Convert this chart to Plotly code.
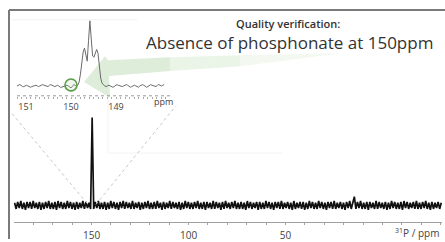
import plotly.graph_objects as go

W, H = 445, 242

# ---------------- data ----------------
main_start, main_step = 189.7, 0.8
main_int = [
    3,-4,4,-3,5,-4,3,-5,4,-3,4,-4,5,-3,3,-4,4,-5,3,-4,
    4,-3,5,-4,3,-4,4,-5,5,-3,4,-4,3,-4,5,-3,4,-4,3,-5,
    4,-4,3,-3,5,-4,4,-3,3,-4,100,-4,4,-3,5,-4,3,-4,4,-5,
    3,-4,5,-3,4,-4,3,-5,4,-3,5,-4,4,-3,3,-4,5,-4,3,-3,
    4,-5,3,-4,4,-3,5,-4,3,-4,4,-4,5,-3,3,-5,4,-4,3,-3,
    5,-4,4,-3,3,-4,4,-5,3,-4,5,-3,4,-4,3,-4,4,-3,5,-4,
    3,-4,4,-5,4,-3,3,-4,5,-4,4,-3,3,-5,4,-4,5,-3,3,-4,
    4,-3,5,-4,3,-4,4,-4,3,-5,5,-3,4,-4,3,-3,4,-5,4,-4,
    3,-4,5,-3,4,-4,3,-5,4,-3,4,-4,5,-4,3,-3,4,-4,3,-5,
    5,-4,3,-3,4,-4,4,-5,3,-4,5,-3,4,-4,3,-4,5,-3,4,-4,
    3,-5,4,-3,4,-4,5,-4,3,-3,4,-4,3,-5,4,-3,5,-4,3,10,
    -4,4,-3,5,-4,3,-4,4,-5,4,-3,3,-4,5,-4,4,-3,3,-4,4,
    -5,3,-4,5,-3,4,-4,3,-4,4,-5,5,-3,4,-4,3,-3,4,-4,5,
    -4,3,-4,4,-3,5,-4,3,-5,4,-4,3,-3,4,-4,3,
]
main_ppm = [round(main_start - main_step * i, 3) for i in range(len(main_int))]

inset_start, inset_step = 151.2, 0.03
inset_int = [
    0,1,2,1,-1,-1,0,1,0,-1,
    -2,-1,0,1,1,0,-1,0,1,2,
    1,0,-1,-1,1,2,1,0,-1,0,
    1,0,-2,-2,-1,0,1,1,0,-1,
    -3,-1,2,1,-1,
    1,6,18,38,52,58,45,38,70,100,72,46,44,52,56,50,30,12,4,1,
    0,-1,0,1,0,-1,-2,-1,1,2,1,0,-1,-1,0,
    1,2,1,-1,-2,-1,0,1,0,-1,-2,0,1,2,1,
    -1,-2,-1,1,2,1,0,-1,-1,1,2,1,0,1,2,
]
inset_ppm = [round(inset_start - inset_step * i, 3) for i in range(len(inset_int))]

main_tick_vals = list(range(180, -31, -10))
main_tick_labels = {150: "150", 100: "100", 50: "50"}
inset_tick_vals = [round(151.2 - 0.1 * i, 1) for i in range(34)]
inset_tick_labels = {151.0: "151", 150.0: "150", 149.0: "149"}

title_small = "Quality verification:"
title_big = "Absence of phosphonate at 150ppm"
axis_label = "<sup>31</sup>P / ppm"


def px(x):
    return x / W


def py(y):
    return 1 - y / H


fig = go.Figure()
fig.add_trace(go.Scatter(x=main_ppm, y=main_int, mode="lines",
                         line=dict(color="#111111", width=1.7),
                         xaxis="x", yaxis="y", hoverinfo="skip"))
fig.add_trace(go.Scatter(x=inset_ppm, y=inset_int, mode="lines",
                         line=dict(color="#6a6a6a", width=1),
                         xaxis="x2", yaxis="y2", hoverinfo="skip"))

shapes = []
# frame
shapes.append(dict(type="line", xref="paper", yref="paper", x0=px(9), x1=px(445), y0=py(10), y1=py(10),
                   line=dict(color="#7a7a7a", width=2)))
shapes.append(dict(type="line", xref="paper", yref="paper", x0=px(9), x1=px(9), y0=py(10), y1=py(242),
                   line=dict(color="#7a7a7a", width=2)))
# faint boxes
for (a, b, c, d) in [(12, 20, 137, 20), (108, 100, 108, 155), (108, 155, 282, 155)]:
    shapes.append(dict(type="line", xref="paper", yref="paper", x0=px(a), y0=py(b), x1=px(c), y1=py(d),
                       line=dict(color="#f2f2f2", width=1)))
# connector dotted lines
shapes.append(dict(type="line", xref="paper", yref="paper", x0=px(12), y0=py(115), x1=px(88), y1=py(207),
                   line=dict(color="#c8c8c8", width=1, dash="dot")))
shapes.append(dict(type="line", xref="paper", yref="paper", x0=px(96), y0=py(207), x1=px(176), y1=py(107),
                   line=dict(color="#c8c8c8", width=1, dash="dot")))
# inset axis dotted line
shapes.append(dict(type="line", xref="paper", yref="paper", x0=px(17), y0=py(97), x1=px(170), y1=py(97),
                   line=dict(color="#9a9a9a", width=1, dash="dot")))


def path(pts):
    return "M " + " L ".join(f"{px(x):.5f},{py(y):.5f}" for x, y in pts) + " Z"


# arrow: head + tapering shaft, fading to the right
shapes.append(dict(type="path", xref="paper", yref="paper",
                   path=path([(84, 83), (105, 57), (108, 61), (170, 58), (170, 72), (109, 77), (110, 99)]),
                   fillcolor="rgba(175,212,165,0.42)", line=dict(width=0), layer="below"))
shapes.append(dict(type="path", xref="paper", yref="paper",
                   path=path([(170, 58), (240, 56), (240, 67), (170, 72)]),
                   fillcolor="rgba(185,218,175,0.30)", line=dict(width=0), layer="below"))
shapes.append(dict(type="path", xref="paper", yref="paper",
                   path=path([(240, 56), (334, 54), (334, 55), (240, 67)]),
                   fillcolor="rgba(195,222,185,0.20)", line=dict(width=0), layer="below"))
# green circle
shapes.append(dict(type="circle", xref="paper", yref="paper", x0=px(65), x1=px(77), y0=py(80), y1=py(92),
                   line=dict(color="#5c9c48", width=1.6), fillcolor="rgba(190,225,180,0.25)"))

annotations = [
    dict(text=title_small, x=px(288), y=py(24), xref="paper", yref="paper", showarrow=False,
         font=dict(family="Open Sans", size=11, color="#333333", weight=600), xanchor="center", yanchor="middle"),
    dict(text=title_big, x=px(289), y=py(43), xref="paper", yref="paper", showarrow=False,
         font=dict(family="Open Sans", size=17, color="#333333"), xanchor="center", yanchor="middle"),
    dict(text="ppm", x=px(163), y=py(103), xref="paper", yref="paper", showarrow=False,
         font=dict(family="Open Sans", size=9, color="#444444"), xanchor="center", yanchor="middle"),
    dict(text=axis_label, x=px(441), y=py(236), xref="paper", yref="paper", showarrow=False,
         font=dict(family="Open Sans", size=10, color="#444444"), xanchor="right", yanchor="middle"),
]

fig.update_layout(
    width=W, height=H, margin=dict(l=0, r=0, t=0, b=0),
    paper_bgcolor="white", plot_bgcolor="rgba(0,0,0,0)", showlegend=False,
    shapes=shapes, annotations=annotations,
    xaxis=dict(domain=[px(14), px(442)], range=[190, -30.7], showgrid=False, zeroline=False,
               showline=True, linecolor="#a0a0a0", linewidth=1, ticks="outside", ticklen=2,
               tickcolor="#a0a0a0", tickvals=main_tick_vals,
               ticktext=[main_tick_labels.get(v, "") for v in main_tick_vals],
               tickfont=dict(family="Open Sans", size=10, color="#444444"), anchor="y",
               ticklabelstandoff=2),
    yaxis=dict(domain=[17 / H, 1], range=[-19.1, 233.7], visible=False),
    xaxis2=dict(domain=[px(17), px(170)], range=[151.2, 147.8], showgrid=False, zeroline=False,
                showline=False, ticks="outside", ticklen=2, tickcolor="#aaaaaa",
                tickvals=inset_tick_vals,
                ticktext=[inset_tick_labels.get(v, "") for v in inset_tick_vals],
                tickfont=dict(family="Open Sans", size=9, color="#444444"), anchor="y2"),
    yaxis2=dict(domain=[py(97), py(15)], range=[-15.15, 109.1], visible=False),
)

fig.write_html("out.html", config={"displayModeBar": False},
               post_script="document.body.style.margin='0';")
